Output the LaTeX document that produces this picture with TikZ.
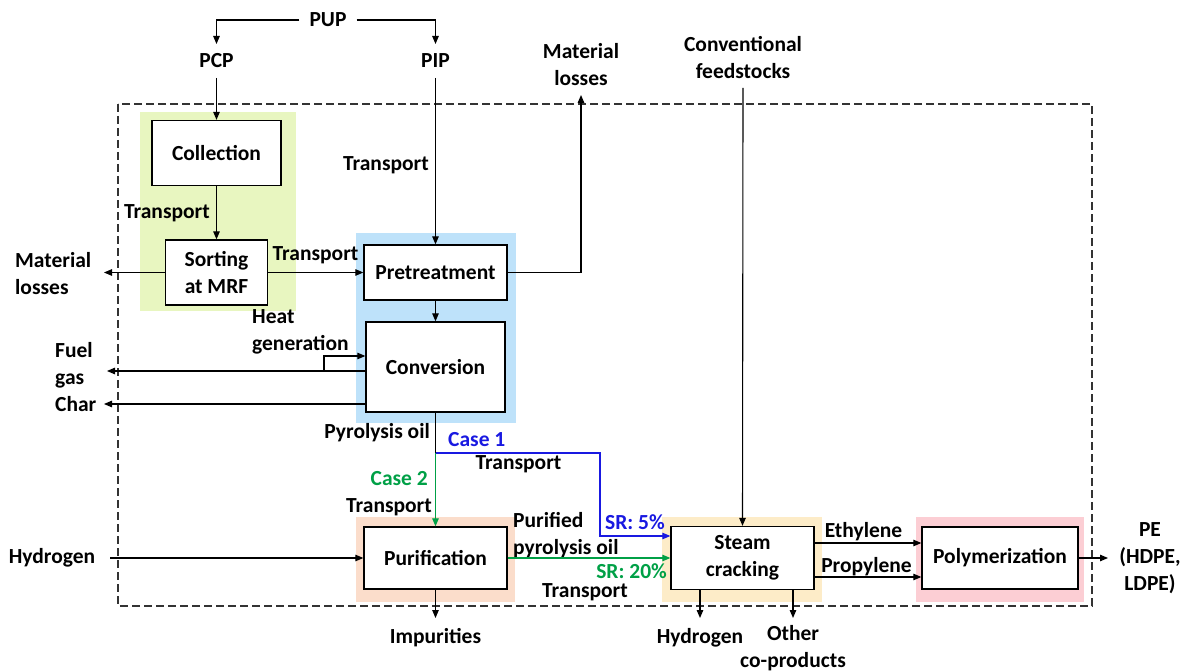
\documentclass[tikz,border=0pt]{standalone}
\usepackage{fontspec}
\setmainfont{Carlito}
\usetikzlibrary{arrows.meta}
\definecolor{bggreen}{RGB}{232,246,192}
\definecolor{bgblue}{RGB}{190,226,250}
\definecolor{bgorange}{RGB}{251,221,203}
\definecolor{bgyellow}{RGB}{253,236,200}
\definecolor{bgpink}{RGB}{252,206,212}
\definecolor{caseblue}{RGB}{25,25,225}
\definecolor{casegreen}{RGB}{0,160,70}
\begin{document}
\begin{tikzpicture}[x=1pt,y=-1pt,
  font=\fontsize{21.5}{27}\selectfont\bfseries,
  box/.style={draw, line width=1.3pt, fill=white, inner sep=0pt, align=center},
  lbl/.style={inner sep=0pt, align=center},
  arr/.style={-{Triangle[length=8pt,width=6.5pt]}, line width=1.1pt},
  ln/.style={line width=1.1pt}]
\useasboundingbox (0,0) rectangle (1182,671);
% backgrounds
\fill[bggreen] (140,112) rectangle (296,311);
\fill[bgblue] (356,233) rectangle (516,423);
\fill[bgorange] (356,517) rectangle (515,602);
\fill[bgyellow] (662,517) rectangle (822,602);
\fill[bgpink] (916,517) rectangle (1084,602);
\draw[line width=1.1pt, dash pattern=on 8pt off 4pt, draw=black!80] (118,104) rectangle (1092,606);

% process boxes
\node[box, minimum width=129pt, minimum height=65pt] (coll) at (216.5,153) {Collection};
\node[box, minimum width=102pt, minimum height=65pt] (sort) at (216.5,272.5) {Sorting\\at MRF};
\node[box, minimum width=143pt, minimum height=55pt] (pre) at (435.5,272.5) {Pretreatment};
\node[box, minimum width=139pt, minimum height=90pt] (conv) at (435.5,367) {Conversion};
\node[box, minimum width=143pt, minimum height=62pt] (puri) at (435.5,558) {Purification};
\node[box, minimum width=143pt, minimum height=63pt] (steam) at (742.5,558) {Steam\\cracking};
\node[box, minimum width=156pt, minimum height=62pt] (poly) at (1000,558) {Polymerization};

% text nodes
\node[lbl, inner xsep=10pt] (pup) at (328,20) {PUP};
\node[lbl] (pcp) at (216.5,61) {PCP};
\node[lbl] (pip) at (435.5,61) {PIP};
\node[lbl, anchor=east] (tr1) at (210,213) {Transport};
\node[lbl, align=left, anchor=west] (mlL) at (15,273.5) {Material\\losses};
\node[lbl] (tr2) at (315.5,255) {Transport};
\node[lbl, anchor=east] (tr3) at (429,165) {Transport};
\node[lbl] (mlT) at (581,65) {Material\\losses};
\node[lbl] (conf) at (743,58) {Conventional\\feedstocks};
\node[lbl, align=left, anchor=west] (heat) at (252,332) {Heat\\generation};
\node[lbl, align=left, anchor=west] (fuel) at (55,365.5) {Fuel\\gas};
\node[lbl, anchor=west] (char) at (55,404) {Char};
\node[lbl, anchor=east] (pyo) at (430,433) {Pyrolysis oil};
\node[lbl, anchor=west, text=caseblue] (case1) at (448,440) {Case 1};
\node[lbl] (tr4) at (518.5,464) {Transport};
\node[lbl, anchor=east, text=casegreen] (case2) at (428,479) {Case 2};
\node[lbl, anchor=east] (tr5) at (432,507) {Transport};
\node[lbl, align=left, anchor=west] (ppo) at (513,535) {Purified\\pyrolysis oil};
\node[lbl, anchor=east, text=caseblue] (sr5) at (665,522) {SR: 5\%};
\node[lbl, anchor=east, text=casegreen] (sr20) at (667,571) {SR: 20\%};
\node[lbl, anchor=east] (tr6) at (628,592) {Transport};
\node[lbl] (h2in) at (52,558) {Hydrogen};
\node[lbl] (imp) at (435.5,638) {Impurities};
\node[lbl] (h2out) at (700,638) {Hydrogen};
\node[lbl] (oth) at (793,648) {Other\\co-products};
\node[lbl] (eth) at (863.5,532) {Ethylene};
\node[lbl] (prop) at (866.5,567) {Propylene};
\node[lbl] (pe) at (1150,558) {PE\\(HDPE,\\LDPE)};

% coordinates for free ends
\coordinate (pcpin) at (216.5,44);
\coordinate (pipin) at (435.5,44);
\coordinate (pcpout) at (216.5,78);
\coordinate (pipout) at (435.5,78);
\coordinate (mlLend) at (104,272.5);
\coordinate (mlTend) at (581,95);
\coordinate (fuelend) at (107,371);
\coordinate (charend) at (104,404);
\coordinate (heatA) at (324,371);
\coordinate (heatB) at (366,356);
\coordinate (split) at (435.5,453);
\coordinate (bc) at (600,536);
\coordinate (h2start) at (110,558);
\coordinate (impend) at (435.5,618);
\coordinate (cfout) at (743,88);
\coordinate (ethy) at (0,543);
\coordinate (propy) at (0,577);
\coordinate (peend) at (1108,558);
\coordinate (h2end) at (700,618);
\coordinate (othend) at (793,618);

% connectors
\draw[arr] (pup.west) -| (pcpin);
\draw[arr] (pup.east) -| (pipin);
\draw[arr] (pcpout) -- (coll.north);
\draw[arr] (coll.south) -- (sort.north);
\draw[arr] (sort.west) -- (mlLend);
\draw[arr] (sort.east) -- (pre.west);
\draw[arr] (pipout) -- (pre.north);
\draw[arr] (pre.east) -| (mlTend);
\draw[arr] (pre.south) -- (conv.north);
\draw[arr] (conv.west |- fuelend) -- (fuelend);
\draw[arr] (conv.west |- charend) -- (charend);
\draw[arr] (heatA) |- (conv.west |- heatB);
\draw[ln] (conv.south) -- (split);
\draw[arr, draw=casegreen] (split) -- (puri.north);
\draw[arr, draw=caseblue] (split) -| (bc) -- (steam.west |- bc);
\draw[arr] (h2start) -- (puri.west);
\draw[arr] (puri.south) -- (impend);
\draw[arr, draw=casegreen] (puri.east) -- (steam.west |- puri.east);
\draw[arr] (cfout) -- (steam.north);
\draw[arr] (steam.east |- ethy) -- (poly.west |- ethy);
\draw[arr] (steam.east |- propy) -- (poly.west |- propy);
\draw[arr] (poly.east) -- (peend);
\draw[arr] (steam.south -| h2end) -- (h2end);
\draw[arr] (steam.south -| othend) -- (othend);
\end{tikzpicture}
\end{document}
